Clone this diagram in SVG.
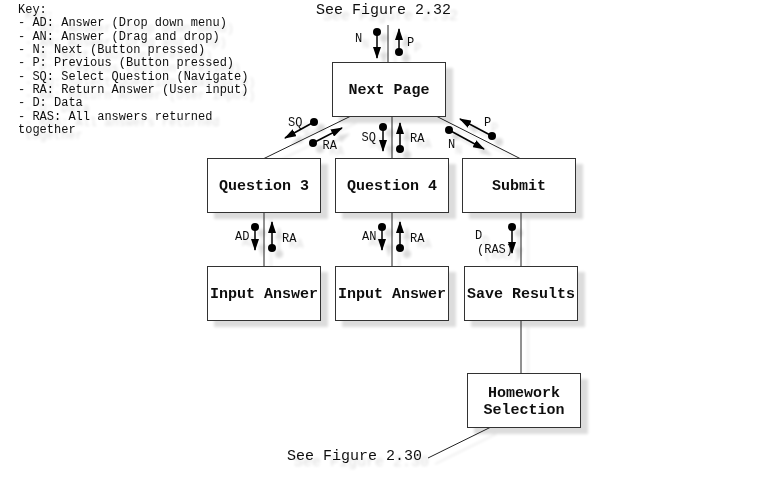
<svg xmlns="http://www.w3.org/2000/svg" width="782" height="490" viewBox="0 0 782 490">
<style>
.box{fill:#fff;stroke:#333;stroke-width:1}
.lbl{font-family:"Liberation Mono","Courier New",monospace;font-size:15px;font-weight:bold;fill:#111;text-anchor:middle}
.fig{font-family:"Liberation Mono","Courier New",monospace;font-size:15px;fill:#111}
.key{font-family:"Liberation Mono","Courier New",monospace;font-size:12px;fill:#111}
.sm{font-family:"Liberation Mono","Courier New",monospace;font-size:12px;fill:#111}
.edge{stroke:#222;stroke-width:1;fill:none}
.arr line{stroke:#000;stroke-width:1.5}
.arr circle{fill:#000}
</style>
<defs>
<filter id="sh" filterUnits="userSpaceOnUse" x="0" y="0" width="782" height="490">
<feOffset in="SourceAlpha" dx="7" dy="6" result="o"/>
<feGaussianBlur in="o" stdDeviation="1.5" result="b"/>
<feComponentTransfer in="b" result="c"><feFuncA type="linear" slope="0.14"/></feComponentTransfer>
<feMerge><feMergeNode in="c"/><feMergeNode in="SourceGraphic"/></feMerge>
</filter>
<marker id="ah" markerUnits="userSpaceOnUse" markerWidth="12" markerHeight="8" refX="11" refY="4" orient="auto">
<path d="M0,0 L12,4 L0,8 z" fill="#000"/>
</marker>
</defs>
<rect width="782" height="490" fill="#fff"/>
<g filter="url(#sh)">
<g id="key" class="key">
<text x="18" y="13">Key:</text>
<text x="18" y="26.3">- AD: Answer (Drop down menu)</text>
<text x="18" y="39.7">- AN: Answer (Drag and drop)</text>
<text x="18" y="53">- N: Next (Button pressed)</text>
<text x="18" y="66.3">- P: Previous (Button pressed)</text>
<text x="18" y="79.7">- SQ: Select Question (Navigate)</text>
<text x="18" y="93">- RA: Return Answer (User input)</text>
<text x="18" y="106.3">- D: Data</text>
<text x="18" y="119.7">- RAS: All answers returned</text>
<text x="18" y="133">together</text>
</g>
<g id="connectors">
<line class="edge" x1="388" y1="25" x2="388" y2="62.5"/>
<line class="edge" x1="350" y1="116.5" x2="264" y2="158.5"/>
<line class="edge" x1="392" y1="116.5" x2="392" y2="158.5"/>
<line class="edge" x1="437" y1="116.5" x2="520" y2="158.5"/>
<line class="edge" x1="264" y1="212.5" x2="264" y2="266.5"/>
<line class="edge" x1="392" y1="212.5" x2="392" y2="266.5"/>
<line class="edge" x1="521" y1="212.5" x2="521" y2="266.5"/>
<line class="edge" x1="521" y1="320.5" x2="521" y2="373.5"/>
<line class="edge" x1="490" y1="427.5" x2="428" y2="458"/>
</g>
<g id="fig232"><text class="fig" x="316" y="14">See Figure 2.32</text></g>
<g id="fig230"><text class="fig" x="287" y="460">See Figure 2.30</text></g>
<g id="next-page"><rect class="box" x="332.5" y="62.5" width="113" height="54"/><text class="lbl" x="389" y="94">Next Page</text></g>
<g id="question-3"><rect class="box" x="207.5" y="158.5" width="113" height="54"/><text class="lbl" x="264" y="190">Question 3</text></g>
<g id="question-4"><rect class="box" x="335.5" y="158.5" width="113" height="54"/><text class="lbl" x="392" y="190">Question 4</text></g>
<g id="submit"><rect class="box" x="462.5" y="158.5" width="113" height="54"/><text class="lbl" x="519" y="190">Submit</text></g>
<g id="input-answer-1"><rect class="box" x="207.5" y="266.5" width="113" height="54"/><text class="lbl" x="264" y="298">Input Answer</text></g>
<g id="input-answer-2"><rect class="box" x="335.5" y="266.5" width="113" height="54"/><text class="lbl" x="392" y="298">Input Answer</text></g>
<g id="save-results"><rect class="box" x="464.5" y="266.5" width="113" height="54"/><text class="lbl" x="521" y="298">Save Results</text></g>
<g id="homework-selection"><rect class="box" x="467.5" y="373.5" width="113" height="54"/><text class="lbl" x="524" y="397">Homework</text><text class="lbl" x="524" y="414">Selection</text></g>
<g id="flows">
<g class="arr"><line x1="377" y1="32" x2="377" y2="58" marker-end="url(#ah)"/><circle cx="377" cy="32" r="4"/></g>
<g class="arr"><line x1="399" y1="52" x2="399" y2="29" marker-end="url(#ah)"/><circle cx="399" cy="52" r="4"/></g>
<g class="arr"><line x1="314" y1="122" x2="285" y2="138" marker-end="url(#ah)"/><circle cx="314" cy="122" r="4"/></g>
<g class="arr"><line x1="313" y1="143" x2="342" y2="128" marker-end="url(#ah)"/><circle cx="313" cy="143" r="4"/></g>
<g class="arr"><line x1="383" y1="127" x2="383" y2="151" marker-end="url(#ah)"/><circle cx="383" cy="127" r="4"/></g>
<g class="arr"><line x1="400" y1="149" x2="400" y2="123" marker-end="url(#ah)"/><circle cx="400" cy="149" r="4"/></g>
<g class="arr"><line x1="449" y1="130" x2="484" y2="149" marker-end="url(#ah)"/><circle cx="449" cy="130" r="4"/></g>
<g class="arr"><line x1="492" y1="136" x2="460" y2="119" marker-end="url(#ah)"/><circle cx="492" cy="136" r="4"/></g>
<g class="arr"><line x1="255" y1="227" x2="255" y2="250" marker-end="url(#ah)"/><circle cx="255" cy="227" r="4"/></g>
<g class="arr"><line x1="272" y1="248" x2="272" y2="222" marker-end="url(#ah)"/><circle cx="272" cy="248" r="4"/></g>
<g class="arr"><line x1="382" y1="227" x2="382" y2="250" marker-end="url(#ah)"/><circle cx="382" cy="227" r="4"/></g>
<g class="arr"><line x1="400" y1="248" x2="400" y2="222" marker-end="url(#ah)"/><circle cx="400" cy="248" r="4"/></g>
<g class="arr"><line x1="512" y1="227" x2="512" y2="253" marker-end="url(#ah)"/><circle cx="512" cy="227" r="4"/></g>
<text class="sm" x="355" y="41.5">N</text>
<text class="sm" x="407" y="46">P</text>
<text class="sm" x="288" y="126">SQ</text>
<text class="sm" x="322.5" y="149">RA</text>
<text class="sm" x="361.5" y="140.5">SQ</text>
<text class="sm" x="410" y="142">RA</text>
<text class="sm" x="448" y="148">N</text>
<text class="sm" x="484" y="126">P</text>
<text class="sm" x="235" y="240">AD</text>
<text class="sm" x="282" y="242">RA</text>
<text class="sm" x="362" y="240">AN</text>
<text class="sm" x="410" y="242">RA</text>
<text class="sm" x="475" y="239">D</text>
<text class="sm" x="477" y="253">(RAS)</text>
</g>
</g>
</svg>
